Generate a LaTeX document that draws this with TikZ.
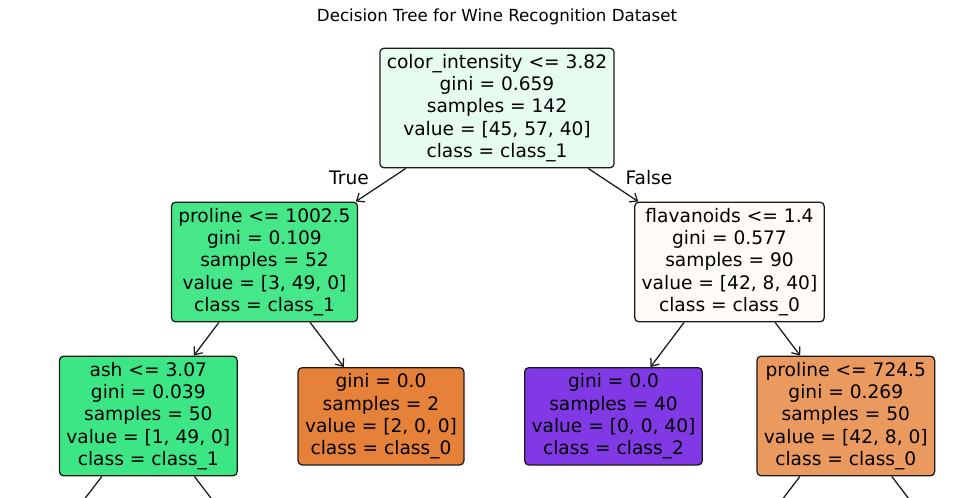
\documentclass[tikz,border=0pt]{standalone}
\usepackage{fontspec}
\setmainfont{DejaVu Sans}
\usetikzlibrary{arrows.meta,positioning}
\definecolor{rootc}{RGB}{231,252,240}
\definecolor{gra}{RGB}{69,231,137}
\definecolor{grb}{RGB}{61,230,132}
\definecolor{ora}{RGB}{254,250,247}
\definecolor{orb}{RGB}{229,129,57}
\definecolor{orc}{RGB}{234,153,95}
\definecolor{pua}{RGB}{129,57,229}

\begin{document}
\begin{tikzpicture}[x=0.72pt,y=-0.72pt,
  every node/.style={align=center,font=\fontsize{13.4}{16.05}\selectfont},%
  nd/.style={draw=black!90,line width=0.9pt,rounded corners=3pt,inner xsep=5pt,inner ysep=4.3pt},%
  e/.style={-{Straight Barb[length=4.7pt,width=7.6pt]},line width=0.9pt,draw=black!90},%
  mint/.style={nd,fill=rootc},%
  gr/.style={nd,fill=gra},%
  grr/.style={nd,fill=grb},%
  pale/.style={nd,fill=ora},%
  or/.style={nd,fill=orb},%
  orl/.style={nd,fill=orc},%
  pu/.style={nd,fill=pua},%
  ]
  \clip (0,0) rectangle (972,498);
  \node (title) at (497,17) {\fontsize{12}{14}\selectfont Decision Tree for Wine Recognition Dataset};

  \node (root) at (497,108) [mint] {color\_intensity <= 3.82\\gini = 0.659\\samples = 142\\value = [45, 57, 40]\\class = class\_1};
  \node (prl) at (264.5,262) [gr] {proline <= 1002.5\\gini = 0.109\\samples = 52\\value = [3, 49, 0]\\class = class\_1};
  \node (flv) at (729.5,262) [pale] {flavanoids <= 1.4\\gini = 0.577\\samples = 90\\value = [42, 8, 40]\\class = class\_0};
  \node (ash) at (148.3,416) [grr] {ash <= 3.07\\gini = 0.039\\samples = 50\\value = [1, 49, 0]\\class = class\_1};
  \node (lfa) at (381,416.3) [or] {gini = 0.0\\samples = 2\\value = [2, 0, 0]\\class = class\_0};
  \node (lfb) at (613.5,416.3) [pu] {gini = 0.0\\samples = 40\\value = [0, 0, 40]\\class = class\_2};
  \node (prr) at (845.8,416) [orl] {proline <= 724.5\\gini = 0.269\\samples = 50\\value = [42, 8, 0]\\class = class\_0};

  % children below the cut
  \coordinate (ashl) at (30,570);
  \coordinate (ashr) at (265.8,570);
  \coordinate (prrl) at (728.8,570);
  \coordinate (prrr) at (963,570);

  \node (tru) at (349,178) {True};
  \node (fls) at (649,178) {False};

  \draw [e] (root) -- (prl);
  \draw [e] (root) -- (flv);
  \draw [e] (prl) -- (ash);
  \draw [e] (prl) -- (lfa);
  \draw [e] (flv) -- (lfb);
  \draw [e] (flv) -- (prr);
  \draw [e] (ash) -- (ashl);
  \draw [e] (ash) -- (ashr);
  \draw [e] (prr) -- (prrl);
  \draw [e] (prr) -- (prrr);
\end{tikzpicture}
\end{document}
